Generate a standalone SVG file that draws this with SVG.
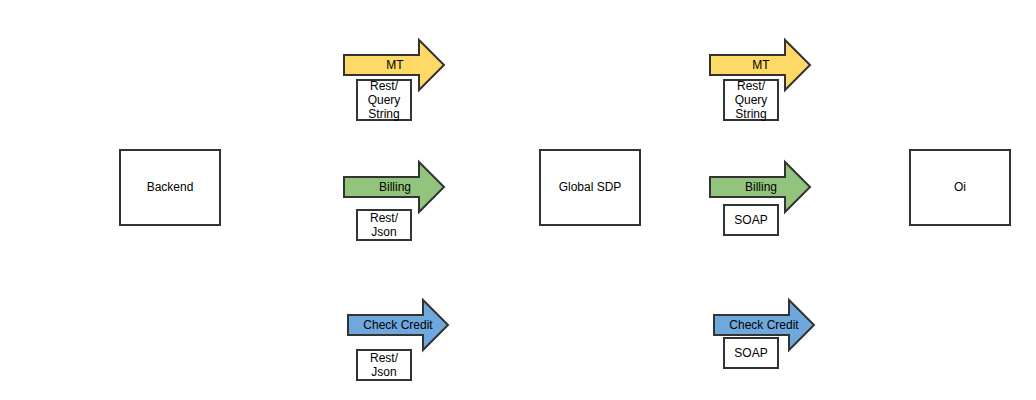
<svg xmlns="http://www.w3.org/2000/svg" width="1036" height="400" viewBox="0 0 1036 400">
<style>
.node{fill:#fff;stroke:#333;stroke-width:2}
.lbl{fill:#fff;stroke:#333;stroke-width:2}
.arr{stroke:#333;stroke-width:2;stroke-linejoin:miter}
.y{fill:#FFD966}.g{fill:#93C47D}.b{fill:#6FA8DC}
text{font-family:"Liberation Sans",Arial,sans-serif;font-size:12px;fill:#000;text-anchor:middle}
</style>
<rect width="1036" height="400" fill="#fff"/>
<g id="connectors">
<g id="arrow-mt-1"><path class="arr y" d="M344,55 H419 V40 L444,65 L419,90 V75 H344 Z"/><text x="395" y="69">MT</text></g>
<g id="arrow-billing-1"><path class="arr g" d="M344,177 H419 V162 L444,187 L419,212 V197 H344 Z"/><text x="395" y="191">Billing</text></g>
<g id="arrow-check-1"><path class="arr b" d="M348,315 H423 V300 L448,325 L423,350 V335 H348 Z"/><text x="398" y="329">Check Credit</text></g>
<g id="arrow-mt-2"><path class="arr y" d="M710,55 H785 V40 L810,65 L785,90 V75 H710 Z"/><text x="761" y="69">MT</text></g>
<g id="arrow-billing-2"><path class="arr g" d="M710,177 H785 V162 L810,187 L785,212 V197 H710 Z"/><text x="761" y="191">Billing</text></g>
<g id="arrow-check-2"><path class="arr b" d="M714,315 H789 V300 L814,325 L789,350 V335 H714 Z"/><text x="764" y="329">Check Credit</text></g>
</g>
<g id="backend"><rect class="node" x="120" y="150" width="100" height="75"/><text x="170" y="191">Backend</text></g>
<g id="global-sdp"><rect class="node" x="540" y="150" width="100" height="75"/><text x="590" y="191">Global SDP</text></g>
<g id="oi"><rect class="node" x="910" y="150" width="100" height="75"/><text x="960" y="191">Oi</text></g>
<g id="lbl-rest-qs-1"><rect class="lbl" x="357" y="80" width="54" height="40"/><text x="384" y="90">Rest/</text><text x="384" y="104">Query</text><text x="384" y="118">String</text></g>
<g id="lbl-rest-json-1"><rect class="lbl" x="357" y="210" width="54" height="30"/><text x="384" y="222">Rest/</text><text x="384" y="236">Json</text></g>
<g id="lbl-rest-json-2"><rect class="lbl" x="357" y="350" width="54" height="30"/><text x="384" y="362">Rest/</text><text x="384" y="376">Json</text></g>
<g id="lbl-rest-qs-2"><rect class="lbl" x="724" y="80" width="54" height="40"/><text x="751" y="90">Rest/</text><text x="751" y="104">Query</text><text x="751" y="118">String</text></g>
<g id="lbl-soap-1"><rect class="lbl" x="724" y="205" width="54" height="30"/><text x="751" y="224">SOAP</text></g>
<g id="lbl-soap-2"><rect class="lbl" x="724" y="338" width="54" height="30"/><text x="751" y="357">SOAP</text></g>
</svg>
